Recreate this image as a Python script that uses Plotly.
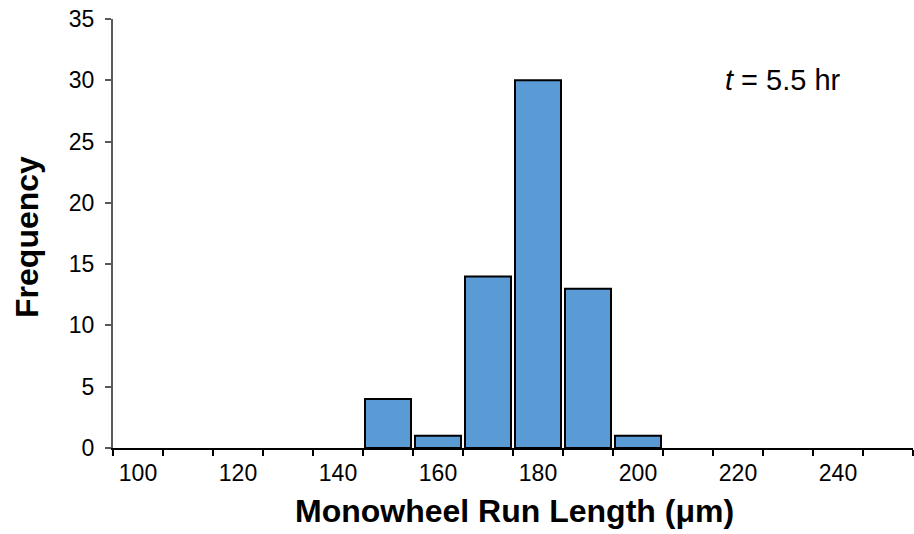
import plotly.graph_objects as go

bin_centers = [150, 160, 170, 180, 190, 200]
frequencies = [4, 1, 14, 30, 13, 1]
x_tick_values = [100, 120, 140, 160, 180, 200, 220, 240]
y_tick_values = [0, 5, 10, 15, 20, 25, 30, 35]

fig = go.Figure()
fig.add_trace(go.Bar(
    x=bin_centers, y=frequencies, width=9.2,
    marker=dict(color="#5B9BD5", line=dict(color="black", width=2)),
))

fig.update_layout(
    width=914, height=534,
    margin=dict(l=113, r=1, t=19, b=86),
    plot_bgcolor="white", paper_bgcolor="white",
    font=dict(family="Liberation Sans, Arial", color="black", size=23),
    showlegend=False,
    xaxis=dict(
        range=[95, 255], tickvals=x_tick_values,
        ticks="", showgrid=False, zeroline=False,
        showline=True, linecolor="black", linewidth=2,
        tickfont=dict(size=23), ticklabelstandoff=3,
        minor=dict(tick0=95, dtick=10, ticks="outside", ticklen=6,
                   tickcolor="black", tickwidth=2, showgrid=False),
    ),
    yaxis=dict(
        range=[0, 35], tickvals=y_tick_values,
        ticks="outside", ticklen=6, tickcolor="#595959", tickwidth=2,
        showgrid=False, zeroline=False,
        showline=True, linecolor="#595959", linewidth=2,
        tickfont=dict(size=23), ticklabelstandoff=6,
    ),
    annotations=[
        dict(x=229, y=30, xref="x", yref="y",
             text="<i>t</i> = 5.5 hr", showarrow=False,
             font=dict(size=29, color="black")),
        dict(x=0.5015, y=-0.1475, xref="paper", yref="paper",
             xanchor="center", yanchor="middle",
             text="<b>Monowheel Run Length (μm)</b>", showarrow=False,
             font=dict(size=32, color="black")),
        dict(x=-0.1075, y=0.492, xref="paper", yref="paper",
             xanchor="center", yanchor="middle", textangle=-90,
             text="<b>Frequency</b>", showarrow=False,
             font=dict(size=32, color="black")),
    ],
)

fig.write_html("out.html")
